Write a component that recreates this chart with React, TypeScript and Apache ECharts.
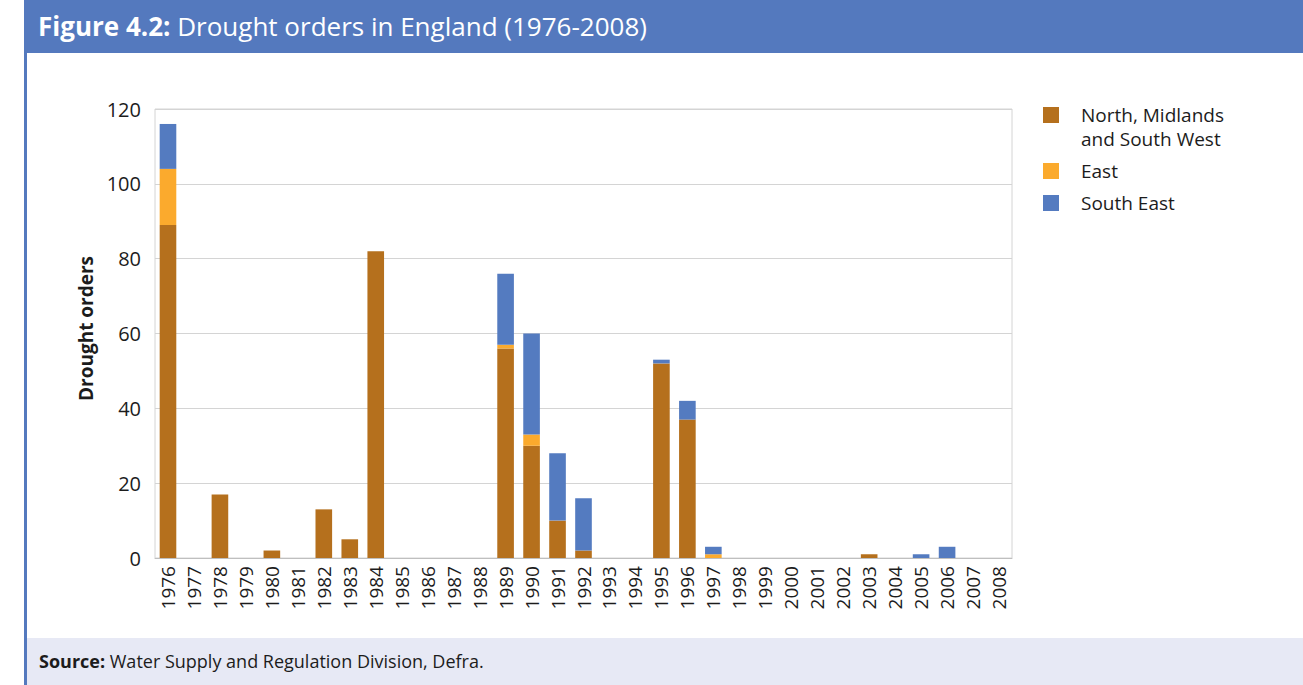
import React, { useEffect, useRef } from "react";
import * as echarts from "echarts";

const years = [
  "1976","1977","1978","1979","1980","1981","1982","1983","1984","1985","1986",
  "1987","1988","1989","1990","1991","1992","1993","1994","1995","1996","1997",
  "1998","1999","2000","2001","2002","2003","2004","2005","2006","2007","2008",
];
const northMidlandsSouthWest = [89,0,17,0,2,0,13,5,82,0,0,0,0,56,30,10,2,0,0,52,37,0,0,0,0,0,0,1,0,0,0,0,0];
const east = [15,0,0,0,0,0,0,0,0,0,0,0,0,1,3,0,0,0,0,0,0,1,0,0,0,0,0,0,0,0,0,0,0];
const southEast = [12,0,0,0,0,0,0,0,0,0,0,0,0,19,27,18,14,0,0,1,5,2,0,0,0,0,0,0,0,1,3,0,0];

const seriesNames = ["North, Midlands\nand South West", "East", "South East"];
const seriesColors = ["#B5701D", "#FBAA2D", "#547BC0"];

const FONT = "'Open Sans', 'Noto Sans', sans-serif";
const TEXT = "#1c1c1c";

export default function App() {
  const ref = useRef<HTMLDivElement>(null);
  useEffect(() => {
    if (!ref.current) return;
    const chart = echarts.init(ref.current, undefined, { renderer: "svg" });
    const seriesData = [northMidlandsSouthWest, east, southEast];
    const legendY = [115, 171, 203];
    const legendGraphics: any[] = [];
    seriesNames.forEach((n, i) => {
      legendGraphics.push({
        type: "rect",
        shape: { x: 1043, y: legendY[i] - 8, width: 16, height: 16 },
        style: { fill: seriesColors[i] },
      });
      legendGraphics.push({
        type: "text",
        x: 1081,
        y: legendY[i] - 12,
        style: {
          text: n,
          fill: TEXT,
          font: `19px ${FONT}`,
          lineHeight: 24,
          verticalAlign: "top",
        },
      });
    });
    chart.setOption({
      animation: false,
      textStyle: { fontFamily: FONT },
      grid: {
        left: 155,
        right: 291,
        top: 109,
        bottom: 127,
        show: true,
        borderColor: "#D4D4D4",
        borderWidth: 1,
        containLabel: false,
      },
      xAxis: {
        type: "category",
        data: years,
        axisLine: { lineStyle: { color: "#BFBFBF" } },
        axisTick: { show: false },
        axisLabel: {
          rotate: 90,
          interval: 0,
          margin: 8,
          fontSize: 19,
          color: TEXT,
          fontFamily: FONT,
        },
      },
      yAxis: {
        type: "value",
        min: 0,
        max: 120,
        interval: 20,
        name: "Drought orders",
        nameLocation: "middle",
        nameGap: 60,
        nameTextStyle: { fontSize: 19, fontWeight: "bold", color: TEXT, fontFamily: FONT, padding: [0, 0, 0, 10] },
        axisLine: { show: false },
        axisTick: { show: false },
        axisLabel: { fontSize: 20, margin: 14, color: TEXT, fontFamily: FONT },
        splitLine: { lineStyle: { color: "#D4D4D4", width: 1 } },
      },
      series: seriesNames.map((n, i) => ({
        name: n,
        type: "bar",
        stack: "total",
        data: seriesData[i],
        barCategoryGap: "36%",
        itemStyle: { color: seriesColors[i] },
      })),
      graphic: [
        { type: "rect", shape: { x: 24, y: 0, width: 1279, height: 53 }, style: { fill: "#5479BE" } },
        { type: "rect", shape: { x: 24, y: 53, width: 3, height: 632 }, style: { fill: "#5479BE" } },
        { type: "rect", shape: { x: 27, y: 638, width: 1276, height: 47 }, style: { fill: "#E7E9F5" } },
        {
          type: "text",
          x: 38,
          y: 26,
          style: {
            text: "{b|Figure 4.2:}{n|\u00a0Drought orders in England (1976-2008)}",
            verticalAlign: "middle",
            rich: {
              b: { font: `bold 26px ${FONT}`, fill: "#ffffff" },
              n: { font: `26px ${FONT}`, fill: "#ffffff" },
            },
          },
        },
        {
          type: "text",
          x: 39,
          y: 661,
          style: {
            text: "{b|Source:}{n|\u00a0Water Supply and Regulation Division, Defra.}",
            verticalAlign: "middle",
            rich: {
              b: { font: `bold 18px ${FONT}`, fill: TEXT },
              n: { font: `18px ${FONT}`, fill: TEXT },
            },
          },
        },
        ...legendGraphics,
      ],
    });
    return () => chart.dispose();
  }, []);
  return (
    <div
      ref={ref}
      style={{ position: "absolute", left: 0, top: 0, width: 1303, height: 685, background: "#ffffff" }}
    />
  );
}
